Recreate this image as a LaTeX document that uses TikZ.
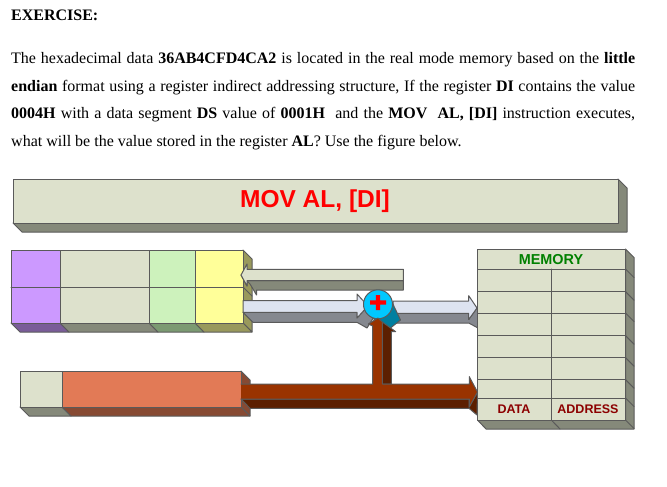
\documentclass[tikz,border=0pt]{standalone}
\usepackage{fontspec}
\setmainfont{Liberation Serif}
\newfontfamily\labelfont{Liberation Sans}
\definecolor{khaki}{HTML}{DDE1CC}
\definecolor{khakid}{HTML}{85897A}
\definecolor{violet}{HTML}{CC99FF}
\definecolor{violetd}{HTML}{7A5C99}
\definecolor{mint}{HTML}{CDF2BC}
\definecolor{mintd}{HTML}{7B9A72}
\definecolor{lemon}{HTML}{FFFF99}
\definecolor{lemond}{HTML}{99995C}
\definecolor{salmon}{HTML}{E27A56}
\definecolor{salmond}{HTML}{874A33}
\definecolor{ice}{HTML}{DDE3F0}
\definecolor{iced}{HTML}{85888F}
\definecolor{rust}{HTML}{993300}
\definecolor{rustd}{HTML}{5C1F00}
\definecolor{aqua}{HTML}{00C8FF}
\definecolor{aquad}{HTML}{007FA0}
\definecolor{edge}{HTML}{5A5A5A}
\begin{document}
\begin{tikzpicture}[x=1pt,y=-1pt,line join=round,line cap=round,font=\fontsize{16}{19}\selectfont,declare function={r=14.5;},
	part/.style={draw=edge,line width=1pt},
	line/.style={anchor=west,inner sep=0pt},
	tag/.style={font=\labelfont\bfseries\fontsize{12.5}{15}\selectfont,text=red!55!black,inner sep=0pt}]
	\useasboundingbox (0,0) rectangle (667,487);
	% text
	\node[line] (head) at (11,15) {\textbf{EXERCISE:}};
	\node[line] (row1) at (11,60) {\hbox to 624pt{The hexadecimal data \textbf{36AB4CFD4CA2} is located in the real mode memory based on the \textbf{little}}};
	\node[line] (row2) at (11,88) {\hbox to 624pt{\textbf{endian} format using a register indirect addressing structure, If the register \textbf{DI} contains the value}};
	\node[line] (row3) at (11,115) {\hbox to 624pt{\textbf{0004H} with a data segment \textbf{DS} value of \textbf{0001H}\ \ and the \textbf{MOV\ \ AL, [DI]} instruction executes,}};
	\node[line] (row4) at (11,143) {what will be the value stored in the register \textbf{AL}? Use the figure below.};
	% title bar
	\draw[part,fill=khakid] (13,223)--(22,232)--(627,232)--(627,188)--(618,179)--(618,223)--cycle;
	\draw[part,fill=khaki] (13,179) rectangle (618,223);
	\node[font=\labelfont\bfseries\fontsize{24.5}{30}\selectfont,text=red,inner sep=0pt] (title) at (315,201.5) {MOV AL, [DI]};
	% register
	\draw[part,fill=lemond] (243,250)--(252,259)--(252,332)--(243,323)--cycle;
	\draw[part] (243,287)--(252,296);
	\draw[part,fill=violetd] (11,323)--(20,332)--(69,332)--(60,323)--cycle;
	\draw[part,fill=khakid] (60,323)--(69,332)--(158,332)--(149,323)--cycle;
	\draw[part,fill=mintd] (149,323)--(158,332)--(204,332)--(195,323)--cycle;
	\draw[part,fill=lemond] (195,323)--(204,332)--(252,332)--(243,323)--cycle;
	\draw[part,fill=violet] (11,250) rectangle (60,323);
	\draw[part,fill=khaki] (60,250) rectangle (149,323);
	\draw[part,fill=mint] (149,250) rectangle (195,323);
	\draw[part,fill=lemon] (195,250) rectangle (243,323);
	\draw[part] (11,287)--(243,287);
	% lower register
	\draw[part,fill=salmond] (241,371)--(250,380)--(250,416)--(241,407)--cycle;
	\draw[part,fill=khakid] (20,407)--(29,416)--(71,416)--(62,407)--cycle;
	\draw[part,fill=salmond] (62,407)--(71,416)--(250,416)--(241,407)--cycle;
	\draw[part,fill=khaki] (20,371) rectangle (62,407);
	\draw[part,fill=salmon] (62,371) rectangle (241,407);
	% upper arrow
	\draw[part,fill=khakid] (241,275)--(250,284)--(256.5,295)--(256.5,290)--(403.3,290)--(403.3,280.7)--(247,280.7)--(247,286)--cycle;
	\draw[part,fill=khaki] (403.3,269.3)--(247,269.3)--(247,264)--(241,275)--(247,286)--(247,280.7)--(403.3,280.7)--cycle;
	% middle arrows
	\draw[part,fill=iced] (393,313.3)--(393,323)--(468.7,323)--(478,328)--(478,305)--(477,308)--(468.7,319.5)--(468.7,313.3)--cycle;
	\draw[part,fill=ice] (393,301)--(468.7,301)--(468.7,295.7)--(477,308)--(468.7,319.5)--(468.7,313.3)--(393,313.3)--cycle;
	\draw[part,fill=iced] (243,312.3)--(253,322.3)--(357,322.3)--(367,328)--(377,312)--(368,306)--(357,318)--(357,312.3)--cycle;
	\draw[part,fill=ice] (243,300.7)--(357,300.7)--(357,294)--(368,306)--(357,318)--(357,312.3)--(243,312.3)--cycle;
	% adder
	\draw[part,fill=aquad] (390,298)--(400.5,320)--(388,330)--(370,316)--cycle;
	\draw[part,fill=aqua] (378,304.3) circle(r);
	\fill[red] (370,300.3) rectangle (386,304.7) (375.8,295) rectangle (380.2,310);
	% bus
	\draw[part,fill=rustd] (382.3,322)--(395.7,331.7)--(391.3,331.7)--(391.3,384)--(382.3,384)--cycle;
	\draw[part,fill=rustd] (241,399)--(250,408.3)--(469,408.3)--(477,415)--(477.5,392)--(469,407)--(469,399)--cycle;
	\draw[part,fill=rust] (241,384)--(372.7,384)--(372.7,326)--(368.3,324)--(378,318)--(382.3,322)--(382.3,384)--(469.3,384)--(469.3,376.7)--(477.5,392)--(469.3,407)--(469.3,399)--(241,399);
	% memory
	\draw[part,fill=khakid] (625.5,249)--(634,257.5)--(634,429)--(486,429)--(477.5,420)--(625.5,420)--cycle;
	\foreach \y in {269,291.7,313,335.7,357.7,379.7,398,420}
		\draw[part] (625.5,\y)--(634,\y+8.5);
	\draw[part] (551.3,420)--(560,429);
	\draw[part,fill=khaki] (477.5,249) rectangle (625.5,420);
	\foreach \y in {269,291.7,313,335.7,357.7,379.7,398}
		\draw[part] (477.5,\y)--(625.5,\y);
	\draw[part] (551.3,269)--(551.3,420);
	\node[font=\labelfont\bfseries\fontsize{14.4}{17}\selectfont,text=green!50!black,inner sep=0pt] (mem) at (551,260) {MEMORY};
	\node[tag] (data) at (514,409) {DATA};
	\node[tag] (addr) at (588,409) {ADDRESS};
\end{tikzpicture}
\end{document}
